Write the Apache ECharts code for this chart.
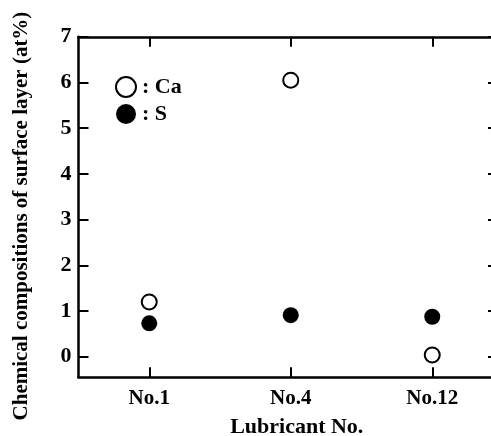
<!DOCTYPE html>
<html><head><meta charset="utf-8">
<script src="https://cdn.jsdelivr.net/npm/echarts@6/dist/echarts.min.js"></script>
<style>html,body{margin:0;padding:0;background:#fff}#c{width:491px;height:436px}</style>
</head><body><div id="c"></div>
<script>
const categories = ['No.1', 'No.4', 'No.12'];
const caValues = [1.2, 6.05, 0.04];
const sValues = [0.73, 0.91, 0.875];
const yTicks = [0, 1, 2, 3, 4, 5, 6, 7];

const F = 'Liberation Serif';
const pos = categories.map((c, i) => i + 1);
const chart = echarts.init(document.getElementById('c'));
const axisLine = { show: true, onZero: false, lineStyle: { color: '#000', width: 2.5 } };
const tick = (v, len) => ({ show: true, inside: true, length: len || 10, customValues: v, lineStyle: { color: '#000', width: 2 } });
chart.setOption({
  animation: false,
  backgroundColor: '#fff',
  grid: { left: 78.5, top: 36.8, right: -12, bottom: 58.7, containLabel: false, outerBoundsMode: 'none' },
  legend: {
    orient: 'vertical', left: 110, top: 71, itemWidth: 22, itemHeight: 20, itemGap: 5,
    data: ['Ca', 'S'],
    formatter: n => ': ' + n,
    textStyle: { fontFamily: F, fontWeight: 'bold', fontSize: 22, color: '#000' }
  },
  xAxis: [{
    type: 'value', min: 0.5, max: 3.5, position: 'bottom',
    axisLine, splitLine: { show: false }, axisTick: tick(pos),
    axisLabel: { customValues: pos, margin: 11, formatter: v => categories[Math.round(v) - 1] || '',
      fontFamily: F, fontWeight: 'bold', fontSize: 21, color: '#000' },
    name: 'Lubricant No.', nameLocation: 'middle', nameGap: 39,
    nameTextStyle: { fontFamily: F, fontWeight: 'bold', fontSize: 22, color: '#000', padding: [0, 0, 0, 12] }
  }, {
    type: 'value', min: 0.5, max: 3.5, position: 'top',
    axisLine, splitLine: { show: false }, axisTick: tick(pos),
    axisLabel: { show: false }
  }],
  yAxis: [{
    type: 'value', min: -0.45, max: 7, position: 'left',
    axisLine, splitLine: { show: false }, axisTick: tick(yTicks),
    axisLabel: { customValues: yTicks, margin: 7, fontFamily: F, fontWeight: 'bold', fontSize: 22, color: '#000' },
    name: 'Chemical compositions of surface layer (at%)', nameLocation: 'middle', nameGap: 46,
    nameTextStyle: { fontFamily: F, fontWeight: 'bold', fontSize: 21, color: '#000', padding: [0, 18, 0, 0] }
  }, {
    type: 'value', min: -0.45, max: 7, position: 'right',
    axisLine, splitLine: { show: false }, axisTick: tick(yTicks, 15),
    axisLabel: { show: false }
  }],
  series: [{
    name: 'Ca', type: 'scatter', symbol: 'circle', symbolSize: 15,
    itemStyle: { color: '#fff', borderColor: '#000', borderWidth: 2, opacity: 1 },
    data: caValues.map((v, i) => [pos[i], v])
  }, {
    name: 'S', type: 'scatter', symbol: 'circle', symbolSize: 16,
    itemStyle: { color: '#000', opacity: 1 },
    data: sValues.map((v, i) => [pos[i], v])
  }]
});
</script></body></html>
